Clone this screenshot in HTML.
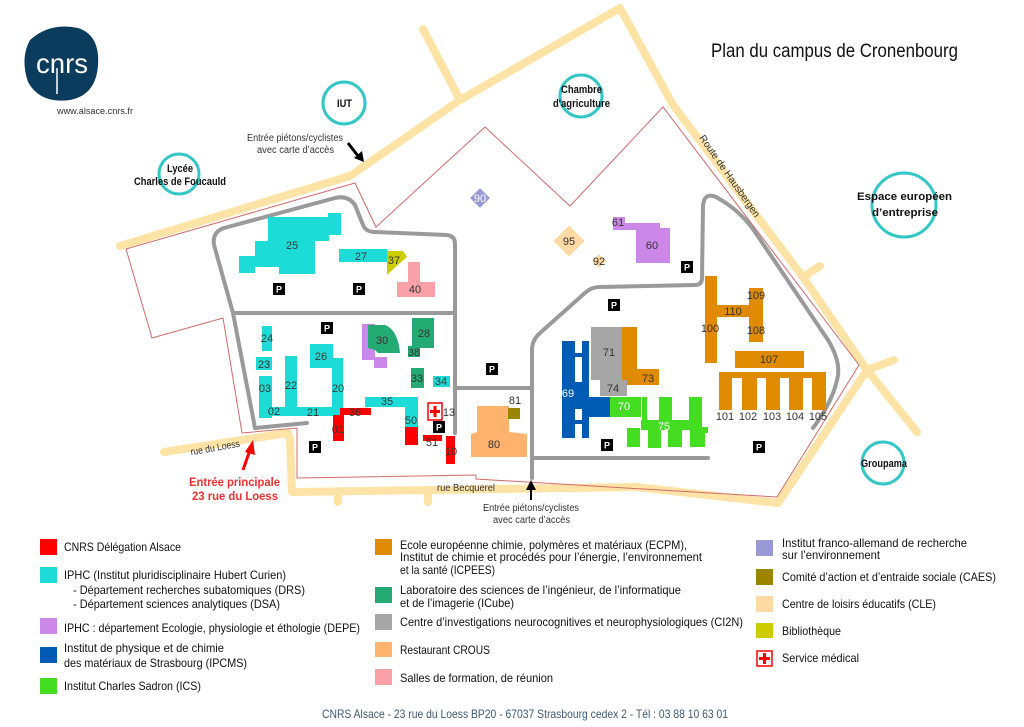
<!DOCTYPE html>
<html><head><meta charset="utf-8"><style>
html,body{margin:0;padding:0;background:#fff;}
svg{display:block;}
text{font-family:"Liberation Sans Narrow","Liberation Sans",sans-serif;}
.n{font-size:11px;fill:#333;text-anchor:middle;}
.lg{font-size:12px;fill:#111;}
.ci{font-size:11px;font-weight:bold;fill:#111;}
</style></head><body>
<svg width="1024" height="727" viewBox="0 0 1024 727" xmlns="http://www.w3.org/2000/svg">
<rect width="1024" height="727" fill="#fff"/>
<g stroke="#fde4a6" stroke-width="8" fill="none" stroke-linecap="round" stroke-linejoin="round">
<polyline points="120,246 350,176 460,100 620,8 673,105 803,277 867,370 917,432"/>
<line x1="460" y1="100" x2="423" y2="29"/>
<line x1="803" y1="277" x2="820" y2="266"/>
<line x1="867" y1="370" x2="894" y2="360"/>
<polyline points="164,452 288,433 290,440 292,492 636,487 778,503 867,370"/>
<line x1="338" y1="492" x2="338" y2="502"/>
<line x1="428" y1="492" x2="428" y2="502"/>
</g>
<polyline fill="none" stroke="#d46a6a" stroke-width="1" points="126,249 355,183 376,227 485,127 570,206 663,107 859,365 777,497 476,479 476,475 297,478 297,428 242,433 223,318 152,338 126,249"/>
<g stroke="#9a9a9a" stroke-width="4" fill="none" stroke-linejoin="round" stroke-linecap="round">
<path d="M255,428 L233,313 L214,245 Q212,232 224,228 L335,198 Q348,195 355,205 L363,225 Q366,232 375,232 L447,235 Q455,236 455,244 L455,433"/>
<line x1="233" y1="313" x2="455" y2="313"/>
<line x1="255" y1="428" x2="307" y2="423"/>
<line x1="455" y1="388" x2="530" y2="388"/>
<path d="M532,478 L532,350 Q532,340 540,333 L586,292 Q592,287 600,287 L695,285 Q702,285 702,278 L703,206 Q704,192 716,197 Q740,210 755,232 L828,340 Q840,360 838,375 Q834,400 813,428"/>
<line x1="532" y1="458" x2="708" y2="458"/>
</g>
<g fill="none" stroke="#33c6c6" stroke-width="3">
<circle cx="344" cy="103" r="21"/><circle cx="179" cy="174" r="20"/><circle cx="581" cy="96" r="21"/>
<circle cx="904" cy="205" r="32"/><circle cx="883" cy="463" r="21"/>
</g>
<text class="ci" x="337" y="107" textLength="15" lengthAdjust="spacingAndGlyphs">IUT</text>
<text class="ci" x="167" y="172" textLength="26" lengthAdjust="spacingAndGlyphs">Lycée</text>
<text class="ci" x="134" y="185" textLength="92" lengthAdjust="spacingAndGlyphs">Charles de Foucauld</text>
<text class="ci" x="561" y="93" textLength="41" lengthAdjust="spacingAndGlyphs">Chambre</text>
<text class="ci" x="553" y="107" textLength="57" lengthAdjust="spacingAndGlyphs">d'agriculture</text>
<text class="ci" x="857" y="200" textLength="95" lengthAdjust="spacingAndGlyphs" font-size="12">Espace européen</text>
<text class="ci" x="872" y="216" textLength="66" lengthAdjust="spacingAndGlyphs" font-size="12">d’entreprise</text>
<text class="ci" x="861" y="467" textLength="46" lengthAdjust="spacingAndGlyphs">Groupama</text>
<path d="M30,40 Q50,22 78,28 Q100,35 98,65 Q96,95 70,100 Q40,104 28,82 Q20,58 30,40Z" fill="#0b3c5d"/>
<text x="62" y="73" font-size="28" fill="#fff" text-anchor="middle" style="font-family:'Liberation Sans',sans-serif" textLength="52" lengthAdjust="spacingAndGlyphs">cnrs</text>
<line x1="57" y1="68" x2="57" y2="94" stroke="#fff" stroke-width="1.5"/>
<text x="57" y="114" font-size="9" fill="#333" textLength="76" lengthAdjust="spacingAndGlyphs">www.alsace.cnrs.fr</text>
<text x="711" y="57" font-size="19" fill="#111" textLength="247" lengthAdjust="spacingAndGlyphs">Plan du campus de Cronenbourg</text>
<g fill="#1ddcd8">
<polygon points="239,256 255,256 255,241 268,241 268,217 328,217 328,213 341,213 341,235 329,235 329,241 315,241 315,274 279,274 279,267 255,267 255,273 239,273"/>
<rect x="339" y="249" width="48" height="13"/>
<rect x="262" y="326" width="10" height="25"/><rect x="256" y="357" width="16" height="13"/>
<rect x="259" y="376" width="13" height="42"/><rect x="259" y="407" width="81" height="9"/>
<rect x="285" y="356" width="12" height="54"/><rect x="310" y="344" width="23" height="24"/>
<rect x="332" y="358" width="11" height="55"/><rect x="365" y="397" width="53" height="10"/>
<rect x="405" y="407" width="13" height="20"/><rect x="433" y="376" width="17" height="11"/>
</g>
<g fill="#ff0000">
<rect x="340" y="408" width="31" height="7"/><rect x="333" y="415" width="11" height="26"/>
<rect x="405" y="427" width="13" height="18"/><rect x="423" y="435" width="19" height="6"/>
<rect x="446" y="436" width="9" height="28"/>
</g>
<polygon points="387,251 403,251 407,257 400,263 387,275" fill="#cccc00"/>
<polygon points="408,262 420,262 420,282 435,282 435,297 397,297 397,282 408,282" fill="#f9a0a8"/>
<g fill="#cc88e8">
<polygon points="362,324 375,324 375,357 387,357 387,368 374,368 374,360 362,360"/>
<polygon points="613,217 625,217 625,223 660,223 660,228 670,228 670,263 636,263 636,230 613,230"/>
</g>
<g fill="#24ab74">
<path d="M368,325 L385,325 Q398,330 400,353 L378,353 L375,350 L368,348Z"/>
<rect x="412" y="318" width="22" height="30"/><rect x="408" y="346" width="12" height="11"/>
<rect x="411" y="368" width="13" height="20"/>
</g>
<rect x="428" y="403" width="14" height="17" fill="#fff" stroke="#f00" stroke-width="1.5"/>
<path d="M435,406v11M430,411.5h10" stroke="#f00" stroke-width="3"/>
<polygon points="477,406 509,406 509,432 527,434 527,457 471,457 471,434 477,432" fill="#fdb36e"/>
<rect x="508" y="408" width="12" height="11" fill="#9a8600"/>
<rect x="473" y="191" width="14" height="14" fill="#9999d6" transform="rotate(45 480 198)"/>
<rect x="558" y="230" width="22" height="22" fill="#fdd9a4" transform="rotate(45 569 241)"/>
<rect x="594" y="256" width="10" height="10" fill="#fdd9a4" transform="rotate(45 599 261)"/>
<g fill="#e08a00">
<rect x="705" y="276" width="12" height="87"/><rect x="717" y="305" width="33" height="12"/>
<rect x="749" y="288" width="14" height="54"/><rect x="735" y="351" width="69" height="17"/>
<rect x="719" y="372" width="107" height="6"/>
<rect x="719" y="372" width="13" height="38"/><rect x="742" y="372" width="15" height="38"/>
<rect x="766" y="372" width="14" height="38"/><rect x="789" y="372" width="14" height="38"/>
<rect x="812" y="372" width="14" height="38"/>
<rect x="622" y="327" width="15" height="48"/><rect x="622" y="369" width="37" height="16"/>
</g>
<rect x="591" y="327" width="31" height="53" fill="#a6a6a6"/>
<rect x="600" y="380" width="27" height="16" fill="#a6a6a6"/>
<rect x="562" y="341" width="27" height="97" fill="#005bb5"/>
<rect x="589" y="397" width="21" height="20" fill="#005bb5"/>
<g fill="#fff"><rect x="575" y="341" width="7" height="12"/><rect x="575" y="357" width="7" height="25"/>
<rect x="575" y="409" width="7" height="11"/><rect x="575" y="424" width="7" height="14"/></g>
<g fill="#44dd22">
<rect x="610" y="397" width="31" height="20"/><rect x="641" y="420" width="61" height="10"/>
<rect x="642" y="397" width="5" height="24"/><rect x="659" y="397" width="13" height="24"/>
<rect x="689" y="397" width="13" height="24"/>
<rect x="627" y="428" width="13" height="19"/><rect x="648" y="428" width="13" height="20"/>
<rect x="668" y="428" width="14" height="19"/><rect x="690" y="428" width="15" height="19"/>
<rect x="702" y="427" width="6" height="6"/>
</g>
<g class="n">
<text x="292" y="249">25</text><text x="361" y="260">27</text><text x="394" y="264">37</text><text x="415" y="293">40</text>
<text x="267" y="342">24</text><text x="264" y="368">23</text><text x="265" y="392">03</text><text x="274" y="415">02</text>
<text x="291" y="389">22</text><text x="321" y="360">26</text><text x="338" y="392">20</text><text x="313" y="416">21</text>
<text x="382" y="344">30</text><text x="424" y="337">28</text><text x="414" y="356">38</text><text x="417" y="382">33</text>
<text x="441" y="385">34</text><text x="387" y="405">35</text><text x="355" y="416">36</text><text x="338" y="433">01</text>
<text x="411" y="424">50</text><text x="432" y="446">51</text><text x="451" y="455">10</text><text x="449" y="416">13</text>
<text x="494" y="448">80</text><text x="515" y="404">81</text><text x="480" y="202" fill="#fff">90</text>
<text x="569" y="245">95</text><text x="599" y="265">92</text><text x="618" y="226">61</text><text x="652" y="249">60</text>
<text x="710" y="332">100</text><text x="733" y="315">110</text><text x="756" y="299">109</text><text x="756" y="334">108</text>
<text x="769" y="363">107</text><text x="725" y="420">101</text><text x="748" y="420">102</text><text x="772" y="420">103</text>
<text x="795" y="420">104</text><text x="818" y="420">105</text>
<text x="609" y="356">71</text><text x="613" y="392">74</text><text x="648" y="382">73</text>
<text x="568" y="397" fill="#fff">69</text><text x="624" y="410" fill="#fff">70</text><text x="664" y="430" fill="#fff">75</text>
</g>
<g font-size="9" font-weight="bold" text-anchor="middle" style="font-family:'Liberation Sans',sans-serif">
<g transform="translate(279,289)"><rect x="-6" y="-6" width="12" height="12" fill="#000"/><text y="3.5" fill="#fff">P</text></g>
<g transform="translate(359,289)"><rect x="-6" y="-6" width="12" height="12" fill="#000"/><text y="3.5" fill="#fff">P</text></g>
<g transform="translate(327,328)"><rect x="-6" y="-6" width="12" height="12" fill="#000"/><text y="3.5" fill="#fff">P</text></g>
<g transform="translate(315,447)"><rect x="-6" y="-6" width="12" height="12" fill="#000"/><text y="3.5" fill="#fff">P</text></g>
<g transform="translate(439,427)"><rect x="-6" y="-6" width="12" height="12" fill="#000"/><text y="3.5" fill="#fff">P</text></g>
<g transform="translate(492,369)"><rect x="-6" y="-6" width="12" height="12" fill="#000"/><text y="3.5" fill="#fff">P</text></g>
<g transform="translate(687,267)"><rect x="-6" y="-6" width="12" height="12" fill="#000"/><text y="3.5" fill="#fff">P</text></g>
<g transform="translate(614,305)"><rect x="-6" y="-6" width="12" height="12" fill="#000"/><text y="3.5" fill="#fff">P</text></g>
<g transform="translate(607,445)"><rect x="-6" y="-6" width="12" height="12" fill="#000"/><text y="3.5" fill="#fff">P</text></g>
<g transform="translate(759,447)"><rect x="-6" y="-6" width="12" height="12" fill="#000"/><text y="3.5" fill="#fff">P</text></g>
</g>
<g font-size="10" fill="#333">
<text x="247" y="141" textLength="96" lengthAdjust="spacingAndGlyphs">Entrée piétons/cyclistes</text>
<text x="257" y="153" textLength="77" lengthAdjust="spacingAndGlyphs">avec carte d’accès</text>
<text x="483" y="511" textLength="96" lengthAdjust="spacingAndGlyphs">Entrée piétons/cyclistes</text>
<text x="493" y="523" textLength="77" lengthAdjust="spacingAndGlyphs">avec carte d’accès</text>
<text x="437" y="491" textLength="58" lengthAdjust="spacingAndGlyphs">rue Becquerel</text>
<text x="190" y="451" transform="rotate(-10 215 447)" textLength="50" lengthAdjust="spacingAndGlyphs">rue du Loess</text>
<text x="727" y="178" text-anchor="middle" transform="rotate(55 727 178)">Route de Hausbergen</text>
</g>
<path d="M348,143 L358,156" stroke="#000" stroke-width="3"/><polygon points="354,158 364,162 362,151" fill="#000"/>
<line x1="531" y1="500" x2="531" y2="488" stroke="#000" stroke-width="2"/><polygon points="526,490 536,490 531,480" fill="#000"/>
<line x1="243" y1="470" x2="250" y2="450" stroke="#f00" stroke-width="3"/><polygon points="245,452 255,455 253,440" fill="#f00"/>
<g font-size="12" font-weight="bold" fill="#f03030">
<text x="189" y="486" textLength="91" lengthAdjust="spacingAndGlyphs">Entrée principale</text>
<text x="192" y="500" textLength="86" lengthAdjust="spacingAndGlyphs">23 rue du Loess</text></g>
<rect x="40" y="539" width="17" height="16" fill="#ff0000"/>
<rect x="40" y="567" width="17" height="16" fill="#1ddcd8"/>
<rect x="40" y="618" width="17" height="16" fill="#cc88e8"/>
<rect x="40" y="647" width="17" height="16" fill="#005bb5"/>
<rect x="40" y="678" width="17" height="16" fill="#44dd22"/>
<g class="lg">
<text x="64" y="551" textLength="117" lengthAdjust="spacingAndGlyphs">CNRS Délégation Alsace</text>
<text x="64" y="579" textLength="222" lengthAdjust="spacingAndGlyphs">IPHC (Institut pluridisciplinaire Hubert Curien)</text>
<text x="73" y="594" textLength="232" lengthAdjust="spacingAndGlyphs">- Département recherches subatomiques (DRS)</text>
<text x="73" y="608" textLength="207" lengthAdjust="spacingAndGlyphs">- Département sciences analytiques (DSA)</text>
<text x="64" y="632" textLength="296" lengthAdjust="spacingAndGlyphs">IPHC : département Ecologie, physiologie et éthologie (DEPE)</text>
<text x="64" y="652" textLength="160" lengthAdjust="spacingAndGlyphs">Institut de physique et de chimie</text>
<text x="64" y="667" textLength="183" lengthAdjust="spacingAndGlyphs">des matériaux de Strasbourg (IPCMS)</text>
<text x="64" y="690" textLength="137" lengthAdjust="spacingAndGlyphs">Institut Charles Sadron (ICS)</text>
</g>
<rect x="375" y="539" width="17" height="16" fill="#e08a00"/>
<rect x="375" y="587" width="17" height="16" fill="#24ab74"/>
<rect x="375" y="614" width="17" height="16" fill="#a6a6a6"/>
<rect x="375" y="642" width="17" height="15" fill="#fdb36e"/>
<rect x="375" y="669" width="17" height="16" fill="#f9a0a8"/>
<g class="lg">
<text x="400" y="549" textLength="287" lengthAdjust="spacingAndGlyphs">Ecole européenne chimie, polymères et matériaux (ECPM),</text>
<text x="400" y="561" textLength="302" lengthAdjust="spacingAndGlyphs">Institut de chimie et procédés pour l’énergie, l’environnement</text>
<text x="400" y="574" textLength="95" lengthAdjust="spacingAndGlyphs">et la santé (ICPEES)</text>
<text x="400" y="594" textLength="281" lengthAdjust="spacingAndGlyphs">Laboratoire des sciences de l’ingénieur, de l’informatique</text>
<text x="400" y="607" textLength="114" lengthAdjust="spacingAndGlyphs">et de l’imagerie (ICube)</text>
<text x="400" y="626" textLength="343" lengthAdjust="spacingAndGlyphs">Centre d’investigations neurocognitives et neurophysiologiques (CI2N)</text>
<text x="400" y="654" textLength="90" lengthAdjust="spacingAndGlyphs">Restaurant CROUS</text>
<text x="400" y="682" textLength="153" lengthAdjust="spacingAndGlyphs">Salles de formation, de réunion</text>
</g>
<rect x="756" y="540" width="17" height="16" fill="#9999d6"/>
<rect x="756" y="569" width="17" height="16" fill="#9a8600"/>
<rect x="756" y="596" width="17" height="16" fill="#fdd9a4"/>
<rect x="756" y="623" width="17" height="15" fill="#cccc00"/>
<rect x="757" y="651" width="15" height="15" fill="#fff" stroke="#f00" stroke-width="1.5"/>
<path d="M764.5,653v11M759,658.5h11" stroke="#f00" stroke-width="3"/>
<g class="lg">
<text x="782" y="547" textLength="185" lengthAdjust="spacingAndGlyphs">Institut franco-allemand de recherche</text>
<text x="782" y="559" textLength="98" lengthAdjust="spacingAndGlyphs">sur l’environnement</text>
<text x="782" y="581" textLength="214" lengthAdjust="spacingAndGlyphs">Comité d’action et d’entraide sociale (CAES)</text>
<text x="782" y="608" textLength="154" lengthAdjust="spacingAndGlyphs">Centre de loisirs éducatifs (CLE)</text>
<text x="782" y="635" textLength="59" lengthAdjust="spacingAndGlyphs">Bibliothèque</text>
<text x="782" y="662" textLength="77" lengthAdjust="spacingAndGlyphs">Service médical</text>
</g>
<text x="322" y="718" font-size="12" fill="#3d5a73" textLength="406" lengthAdjust="spacingAndGlyphs">CNRS Alsace - 23 rue du Loess BP20 - 67037 Strasbourg cedex 2 - Tél : 03 88 10 63 01</text>
</svg>
</body></html>
